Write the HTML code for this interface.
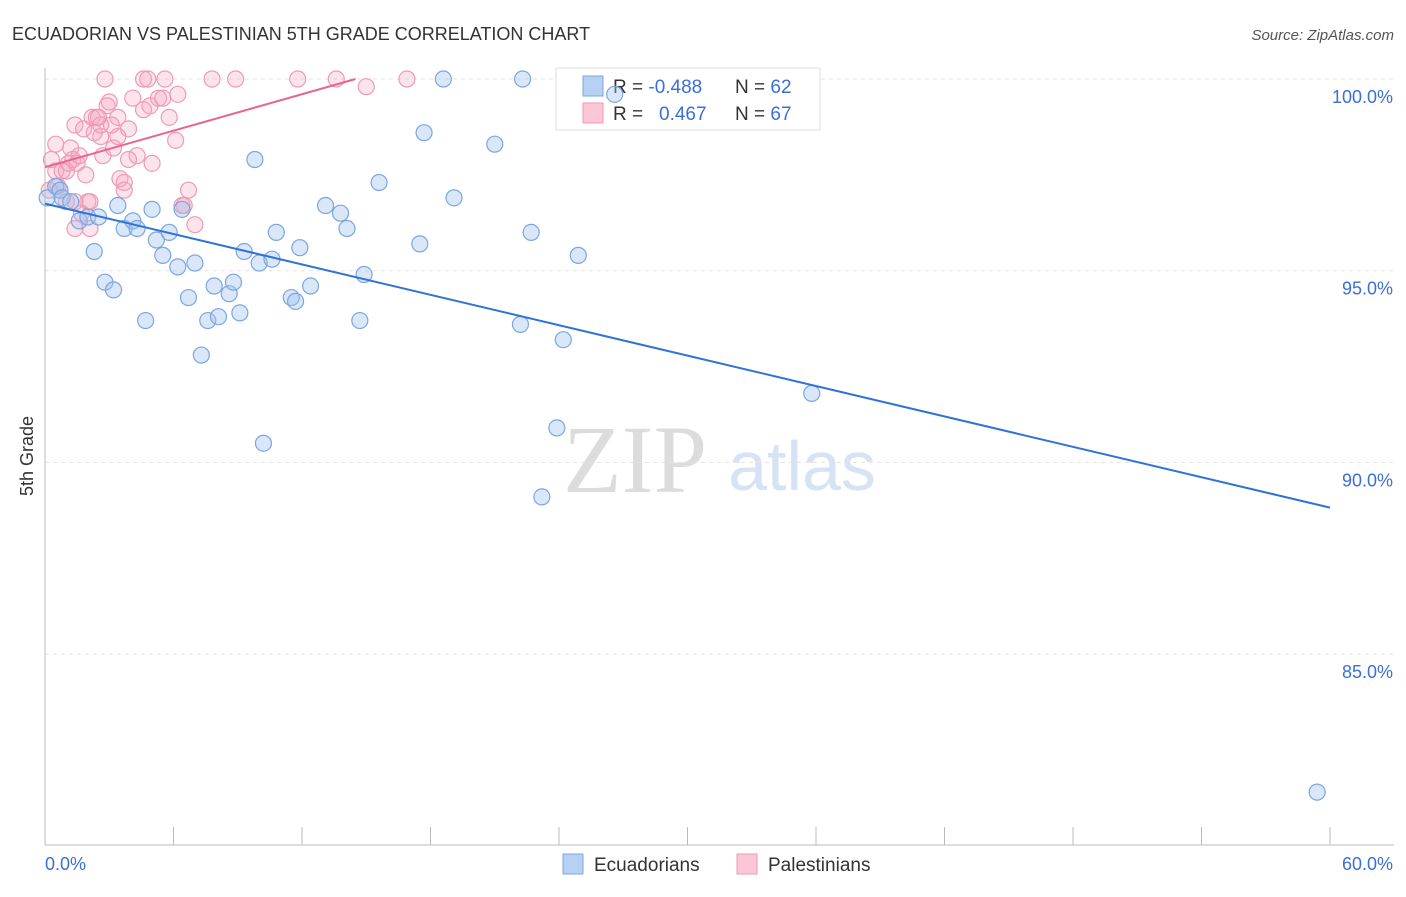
<!DOCTYPE html>
<html><head><meta charset="utf-8"><style>
body{margin:0;background:#fff;font-family:"Liberation Sans",sans-serif;}
</style></head><body>
<svg id="c" width="1406" height="892" font-family="Liberation Sans, sans-serif">
<text x="12" y="40" font-size="18" fill="#333">ECUADORIAN VS PALESTINIAN 5TH GRADE CORRELATION CHART</text>
<text x="1394" y="40" font-size="15" fill="#555" font-style="italic" text-anchor="end">Source: ZipAtlas.com</text>
<text x="33" y="456" font-size="18" fill="#333" text-anchor="middle" transform="rotate(-90 33 456)">5th Grade</text>
<text x="635" y="492" font-size="96" fill="#dcdcdc" text-anchor="middle" style="font-family:'Liberation Serif',serif">ZIP</text>
<text x="802" y="490" font-size="70" fill="#d5e3f5" text-anchor="middle">atlas</text>
<g id="grid"></g>
<g>
<rect x="556" y="68" width="264" height="62" fill="#fff" stroke="#ddd"/>
<rect x="583" y="76" width="20" height="20" fill="#b7d1f5" stroke="#7aa7e0"/>
<rect x="583" y="103" width="20" height="20" fill="#fbc7d7" stroke="#ef9ab5"/>
<text x="613" y="93" font-size="19" fill="#333">R = <tspan fill="#3a6fd8">-0.488</tspan></text>
<text x="735" y="93" font-size="19" fill="#333">N = <tspan fill="#3a6fd8">62</tspan></text>
<text x="613" y="120" font-size="19" fill="#333">R = <tspan fill="#3a6fd8" x="659">0.467</tspan></text>
<text x="735" y="120" font-size="19" fill="#333">N = <tspan fill="#3a6fd8">67</tspan></text>
</g>
<g id="pts"></g><g id="trend"></g>
<g>
<rect x="563" y="854" width="20" height="20" fill="#b7d1f5" stroke="#7aa7e0"/>
<text x="594" y="871" font-size="19" fill="#333">Ecuadorians</text>
<rect x="737" y="854" width="20" height="20" fill="#fbc7d7" stroke="#ef9ab5"/>
<text x="768" y="871" font-size="19" fill="#333">Palestinians</text>
</g>
</svg>
<script>
const yTicks=[100,95,90,85];
const xTickLabels=["0.0%","60.0%"];
const ecuX=[0.1,0.5,0.7,0.8,1.2,1.6,2.0,2.5,2.3,2.8,3.2,3.4,3.7,4.1,4.3,4.7,5.0,5.2,5.5,5.8,6.2,6.4,6.7,7.0,7.3,7.6,7.9,8.1,8.6,8.8,9.1,9.3,9.8,10.0,10.2,10.6,10.8,11.5,11.7,11.9,12.4,13.1,13.8,14.1,14.7,14.9,15.6,17.5,17.7,18.6,19.1,21.0,22.2,22.3,22.7,23.2,23.9,24.2,24.9,26.6,35.8,59.4];
const ecuY=[96.9,97.2,97.1,96.9,96.8,96.3,96.4,96.4,95.5,94.7,94.5,96.7,96.1,96.3,96.1,93.7,96.6,95.8,95.4,96.0,95.1,96.6,94.3,95.2,92.8,93.7,94.6,93.8,94.4,94.7,93.9,95.5,97.9,95.2,90.5,95.3,96.0,94.3,94.2,95.6,94.6,96.7,96.5,96.1,93.7,94.9,97.3,95.7,98.6,100.0,96.9,98.3,93.6,100.0,96.0,89.1,90.9,93.2,95.4,99.6,91.8,81.4];
const palX=[2.8,4.6,4.8,5.6,7.8,8.9,11.8,13.6,15.0,16.9,0.3,0.5,0.6,0.8,1.0,1.1,1.2,1.3,1.4,1.5,1.6,1.8,1.9,2.0,2.1,2.2,2.3,2.4,2.6,2.7,2.9,3.0,3.2,3.4,3.5,3.7,3.7,3.9,4.1,4.3,4.6,4.9,5.0,5.3,5.5,5.8,6.1,6.2,6.4,6.5,6.7,7.0,3.4,0.7,0.2,1.0,1.4,3.1,2.6,3.9,2.1,1.7,0.5,1.4,2.5];
const palY=[100.0,100.0,100.0,100.0,100.0,100.0,100.0,100.0,99.8,100.0,97.9,97.6,97.2,97.6,97.6,97.8,98.2,97.9,98.8,97.8,98.0,98.7,97.5,96.8,96.1,99.0,98.6,99.0,98.5,98.0,99.3,99.4,98.2,99.0,97.4,97.3,97.1,98.7,99.5,98.0,99.2,99.3,97.8,99.5,99.5,99.0,98.4,99.6,96.7,96.7,97.1,96.2,98.5,97.1,97.1,96.8,96.8,98.8,98.8,97.9,96.8,96.5,98.3,96.1,99.0];
const ecuTrend=[[0,96.75],[60,88.82]];
const palTrend=[[0,97.7],[14.5,100.0]];
const X0=45,X1=1330,Y100=79,PX5=191.7;
const sx=v=>X0+(v/60)*(X1-X0);
const sy=v=>Y100+(100-v)/5*PX5;
const NS="http://www.w3.org/2000/svg";
function mk(t,a,p){const e=document.createElementNS(NS,t);for(const k in a)e.setAttribute(k,a[k]);p.appendChild(e);return e;}
const g=document.getElementById('grid');
yTicks.forEach(v=>{
 const l=mk('line',{x1:X0,x2:1394,y1:sy(v),y2:sy(v),stroke:'#e3e3e3','stroke-dasharray':'4,4'},g);
 
 
 const t=mk('text',{x:1393,y:sy(v)+24,'font-size':18,fill:'#3a6fd8','text-anchor':'end'},g);
 t.textContent=v.toFixed(1)+'%';
 
 
});
const ax=mk('line',{x1:X0,x2:X0,y1:68,y2:845,stroke:'#bbb'},g);


const bx=mk('line',{x1:X0,x2:1394,y1:845,y2:845,stroke:'#bbb'},g);


for(let i=0;i<=10;i++){const x=sx(i*6);const tk=mk('line',{x1:x,x2:x,y1:827,y2:845,stroke:'#bbb'},g);
 
 }
[[0,'start'],[60,'end']].forEach((d,i)=>{const t=mk('text',{x:i?1393:45,y:870,'font-size':18,fill:'#3a6fd8','text-anchor':d[1]},g);
 t.textContent=xTickLabels[i];
 
 });
const P=document.getElementById('pts');
palX.forEach((v,i)=>{const c=mk('circle',{cx:sx(v),cy:sy(palY[i]),r:8,fill:'rgba(245,165,192,0.3)',stroke:'#ef9ab5','stroke-width':1.2},P);
 
 });
ecuX.forEach((v,i)=>{const c=mk('circle',{cx:sx(v),cy:sy(ecuY[i]),r:8,fill:'rgba(160,195,240,0.4)',stroke:'#7aa7e0','stroke-width':1.2},P);
 
 });
const T=document.getElementById('trend');
const l1=mk('line',{x1:sx(ecuTrend[0][0]),y1:sy(ecuTrend[0][1]),x2:sx(ecuTrend[1][0]),y2:sy(ecuTrend[1][1]),stroke:'#2f72d8','stroke-width':2},T);


const l2=mk('line',{x1:sx(palTrend[0][0]),y1:sy(palTrend[0][1]),x2:sx(palTrend[1][0]),y2:sy(palTrend[1][1]),stroke:'#e8658f','stroke-width':2},T);


</script>
</body></html>
